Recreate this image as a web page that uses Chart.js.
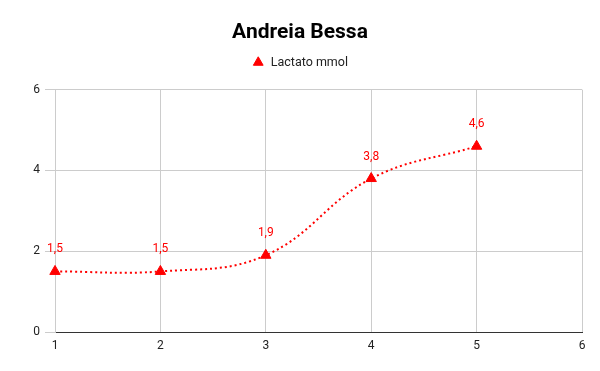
<!DOCTYPE html>
<html>
<head>
<meta charset="utf-8">
<script src="https://cdn.jsdelivr.net/npm/chart.js@4/dist/chart.umd.min.js"></script>
<style>
  html, body { margin: 0; padding: 0; background: #fff; }
</style>
</head>
<body>
<canvas id="chart" width="600" height="371"></canvas>
<script>
const xValues = [1, 2, 3, 4, 5];
const lactato = [1.5, 1.5, 1.9, 3.8, 4.6];
const xTicks = [1, 2, 3, 4, 5, 6];
const yTicks = [0, 2, 4, 6];

// labels above each point, with a decimal comma
const pointLabels = {
    id: 'pointLabels',
    afterDatasetsDraw(chart) {
        const ctx = chart.ctx;
        const meta = chart.getDatasetMeta(0);
        ctx.save();
        ctx.font = '12px Roboto';
        ctx.fillStyle = '#ff0000';
        ctx.textAlign = 'center';
        ctx.textBaseline = 'middle';
        meta.data.forEach((pt, i) => {
            ctx.fillText(String(lactato[i]).replace('.', ','), pt.x, pt.y - 22);
        });
        ctx.restore();
    }
};

// more room under the legend, and title + legend centred on the whole canvas
const headerFix = {
    id: 'headerFix',
    beforeInit(chart) {
        const fit = chart.legend.fit;
        chart.legend.fit = function () {
            fit.call(this);
            this.height += 11;
        };
    },
    afterLayout(chart) {
        [chart.titleBlock, chart.legend].forEach(b => {
            b.left = 0;
            b.right = chart.width;
            b.width = chart.width;
        });
    }
};

new Chart(document.getElementById('chart'), {
    type: 'line',
    data: {
        datasets: [{
            label: 'Lactato mmol',
            data: xValues.map((x, i) => ({ x: x, y: lactato[i] })),
            borderColor: '#ff0000',
            backgroundColor: '#ff0000',
            borderWidth: 2,
            borderDash: [2, 3],
            tension: 0.4,
            clip: false,
            pointStyle: 'triangle',
            pointRadius: 6,
            pointHoverRadius: 6,
            pointBorderWidth: 1
        }]
    },
    options: {
        responsive: false,
        animation: false,
        layout: { padding: { left: 0, right: 18, top: 0, bottom: 0 } },
        plugins: {
            title: {
                display: true,
                text: 'Andreia Bessa',
                color: '#000',
                font: { family: 'Roboto', size: 21, weight: 'bold' },
                padding: { top: 20, bottom: 1 }
            },
            legend: {
                labels: {
                    usePointStyle: true,
                    boxHeight: 8,
                    color: '#222',
                    font: { family: 'Roboto', size: 12.5 },
                    generateLabels: chart => Chart.defaults.plugins.legend.labels.generateLabels(chart)
                        .map(l => ({ ...l, lineDash: [], lineWidth: 1 }))
                }
            },
            tooltip: { enabled: false }
        },
        scales: {
            x: {
                type: 'linear',
                min: xTicks[0],
                max: xTicks[xTicks.length - 1],
                afterBuildTicks: s => { s.ticks = xTicks.map(v => ({ value: v })); },
                afterFit: s => { s.height = 39; },
                grid: { color: '#cccccc', drawTicks: false },
                border: { color: '#333333', width: 1 },
                ticks: { color: '#222', padding: 7, font: { family: 'Roboto', size: 12 } }
            },
            y: {
                min: yTicks[0],
                max: yTicks[yTicks.length - 1],
                afterBuildTicks: s => { s.ticks = yTicks.map(v => ({ value: v })); },
                afterFit: s => { s.width = 55; },
                grid: { color: '#cccccc', tickLength: 10 },
                border: { color: '#cccccc' },
                ticks: { color: '#222', padding: 5, font: { family: 'Roboto', size: 12 } }
            }
        }
    },
    plugins: [pointLabels, headerFix]
});
</script>
</body>
</html>
